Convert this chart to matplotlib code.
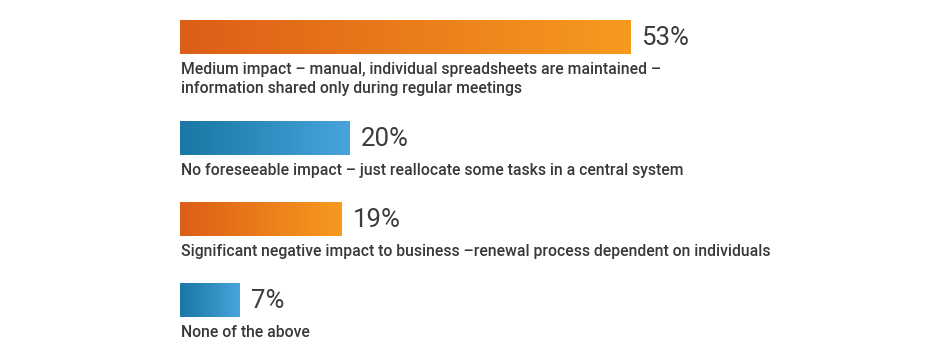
import numpy as np
import matplotlib.pyplot as plt
from matplotlib.colors import LinearSegmentedColormap

plt.rcParams['font.family'] = ['Roboto', 'DejaVu Sans']

# Data
labels = [
    "Medium impact \u2013 manual, individual spreadsheets are maintained \u2013\ninformation shared only during regular meetings",
    "No foreseeable impact \u2013 just reallocate some tasks in a central system",
    "Significant negative impact to business \u2013renewal process dependent on individuals",
    "None of the above",
]
values = [53, 20, 19, 7]
palette = ["orange", "blue", "orange", "blue"]

gradients = {
    "orange": LinearSegmentedColormap.from_list("org", ["#DC5E17", "#F79A1F"]),
    "blue": LinearSegmentedColormap.from_list("blu", ["#1A76A3", "#48A4DC"]),
}

W, H = 941, 359
fig = plt.figure(figsize=(W / 100, H / 100), dpi=100)
# axes in pixel coordinates: x in percent units, y in pixels from top
px_per_pct = 8.5
left = 180
ax = fig.add_axes([left / W, 0, (W - left) / W, 1])
ax.axis('off')

bar_h = 34
row_h = 81
line_h = 20
grad = np.linspace(0, 1, 256).reshape(1, -1)

top = 20
for lab, val, col in zip(labels, values, palette):
    ax.imshow(grad, cmap=gradients[col], aspect='auto',
              extent=(0, val, top + bar_h, top), interpolation='bilinear', zorder=2)
    ax.text(val + 11 / px_per_pct, top + bar_h / 2 + 1, f"{val}%", fontsize=18.5,
            fontweight='normal', color='#3c3c3c', va='center', ha='left')
    ax.text(0.1, top + bar_h + 8, lab, fontsize=11.3, fontweight='medium',
            color='#383838', va='top', ha='left', linespacing=1.32)
    nlines = lab.count("\n")
    top += row_h + nlines * line_h

ax.set_xlim(0, (W - left) / px_per_pct)
ax.set_ylim(H, 0)

fig.savefig("out.png", dpi=100)
